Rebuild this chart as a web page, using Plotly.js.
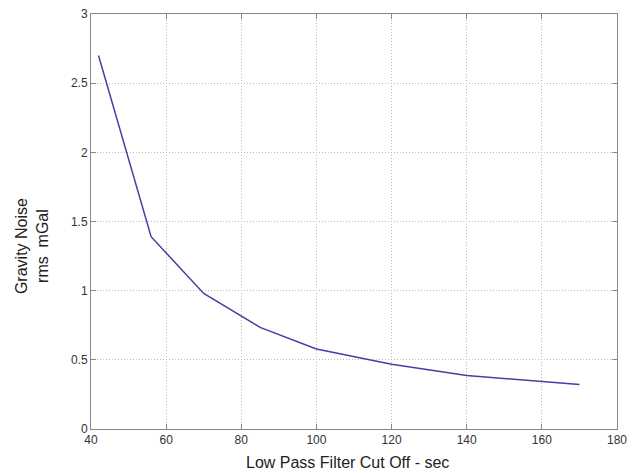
<!DOCTYPE html>
<html><head><meta charset="utf-8">
<script src="https://cdn.plot.ly/plotly-3.0.1.min.js"></script>
<style>html,body{margin:0;padding:0;background:#fff}#c{width:639px;height:473px}</style>
</head><body><div id="c"></div>
<script>
const cutoff = [42, 56, 70, 85, 100, 120, 140, 170];
const noise = [2.70, 1.39, 0.98, 0.735, 0.578, 0.468, 0.386, 0.322];
const xTicks = [40, 60, 80, 100, 120, 140, 160, 180];
const yTicks = [0, 0.5, 1, 1.5, 2, 2.5, 3];
const yTickText = ['0', '0.5', '1', '1.5', '2', '2.5', '3'];
const xTitle = 'Low Pass Filter Cut Off - sec';
const yTitle = 'Gravity Noise<br>rms  mGal';

const F = 'Liberation Sans, Arial, sans-serif';
const axisCommon = {
  showline: true, linecolor: '#888', linewidth: 1, mirror: 'ticks',
  ticks: 'inside', ticklen: 5, tickcolor: '#888',
  showgrid: true, gridcolor: '#b4b8c8', griddash: '1px,2px', gridwidth: 1,
  zeroline: false,
  tickfont: {family: F, size: 12, color: '#333'}
};
Plotly.newPlot('c', [{
  x: cutoff, y: noise, type: 'scatter', mode: 'lines',
  line: {color: '#4440a6', width: 1.5}
}], {
  width: 639, height: 473,
  margin: {l: 91, r: 22, t: 14, b: 44},
  paper_bgcolor: '#fff', plot_bgcolor: '#fff',
  showlegend: false,
  xaxis: Object.assign({}, axisCommon, {
    range: [40, 180], tickvals: xTicks, ticktext: xTicks.map(String)
  }),
  yaxis: Object.assign({}, axisCommon, {
    range: [0, 3], tickvals: yTicks, ticktext: yTickText
  }),
  annotations: [
    {text: xTitle, xref: 'paper', yref: 'paper', x: 0.487, y: -0.08,
     xanchor: 'center', yanchor: 'middle', showarrow: false,
     font: {family: F, size: 16, color: '#222'}},
    {text: yTitle, xref: 'paper', yref: 'paper', x: -0.112, y: 0.441,
     xanchor: 'center', yanchor: 'middle', showarrow: false, textangle: -90,
     font: {family: F, size: 16, color: '#222'}}
  ]
}, {displayModeBar: false, staticPlot: true});
</script></body></html>
